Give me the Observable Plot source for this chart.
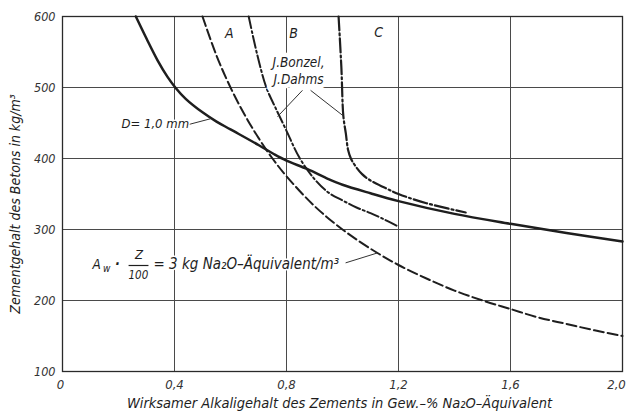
<!DOCTYPE html>
<html><head><meta charset="utf-8">
<script src="https://cdn.jsdelivr.net/npm/d3@7"></script>
<script src="https://cdn.jsdelivr.net/npm/@observablehq/plot@0.6"></script>
<style>body{margin:0;background:#fff}</style>
</head><body><div id="chart"></div>
<script>
// axis ticks
const xTicks = [0, 0.4, 0.8, 1.2, 1.6, 2.0];
const yTicks = [100, 200, 300, 400, 500, 600];
const gridXValues = [0.4, 0.8, 1.2, 1.6];
const gridYValues = [200, 300, 400, 500];

// Curve D = 1,0 mm (solid)
const dX = [0.262, 0.30, 0.34, 0.375, 0.405, 0.44, 0.50, 0.55, 0.60, 0.70, 0.756, 0.80, 0.875, 0.95, 1.00, 1.10, 1.20, 1.40, 1.60, 1.80, 2.00];
const dY = [600, 569, 538, 515, 499, 484, 465, 452, 441, 419, 406, 397, 385, 371, 363, 351, 340, 322, 308, 295, 283];

// Curve A: Aw*Z/100 = 3 kg Na2O-Aequivalent/m3 (dashed)
const aX = [0.50, 0.55, 0.60, 0.65, 0.70, 0.75, 0.80, 0.90, 1.00, 1.10, 1.20, 1.30, 1.40, 1.50, 1.60, 1.70, 1.80, 1.90, 2.00];
const aY = [600, 545, 500, 462, 429, 400, 375, 333, 300, 273, 250, 231, 214, 200, 188, 176, 167, 158, 150];

// Curve B (J. Bonzel, J. Dahms, dash-dot)
const bX = [0.665, 0.695, 0.728, 0.76, 0.80, 0.845, 0.90, 0.95, 1.00, 1.05, 1.10, 1.15, 1.20];
const bY = [600, 547, 500, 472, 439, 402, 371, 352, 341, 331, 323, 314, 304];

// Curve C (J. Bonzel, J. Dahms, dash-dot)
const cX = [0.986, 0.996, 1.003, 1.012, 1.020, 1.030, 1.045, 1.07, 1.10, 1.15, 1.20, 1.30, 1.44];
const cY = [600, 528, 460, 435, 412, 400, 390, 378, 369, 359, 350, 337, 324];

const rows = (xs, ys) => xs.map((x, i) => ({x, y: ys[i]}));

// annotation anchors (data coordinates)
const curveLetters = [
  {x: 0.596, y: 576, t: "A"},
  {x: 0.825, y: 576, t: "B"},
  {x: 1.129, y: 577, t: "C"}
];
const leaders = [
  {x1: 0.452, y1: 448, x2: 0.529, y2: 456},
  {x1: 0.857, y1: 496, x2: 0.768, y2: 459},
  {x1: 0.886, y1: 496, x2: 1.003, y2: 460},
  {x1: 1.011, y1: 253, x2: 1.125, y2: 267}
];

const FONT = '"Liberation Sans Narrow", "DejaVu Sans Condensed", "Liberation Sans", sans-serif';
const INK = "#1e1e1e";
const fmt = d => d === 0 ? "0" : d.toFixed(1).replace(".", ",");
const one = [0];

const chart = Plot.plot({
  width: 627,
  height: 412,
  marginLeft: 62,
  marginRight: 5,
  marginTop: 16,
  marginBottom: 41,
  style: {fontFamily: FONT, fontStyle: "italic", fontSize: "12px", color: INK, background: "#fff"},
  x: {domain: [0, 2], axis: null},
  y: {domain: [100, 600], axis: null},
  marks: [
    Plot.gridX(gridXValues, {stroke: "#4a4a4a", strokeOpacity: 1, strokeWidth: 1}),
    Plot.gridY(gridYValues, {stroke: "#4a4a4a", strokeOpacity: 1, strokeWidth: 1}),
    Plot.frame({stroke: "#2a2a2a", strokeWidth: 1.3}),
    Plot.axisX(xTicks.slice(1, -1), {tickSize: 0, tickPadding: 8, tickFormat: fmt, fontSize: 13, label: null, fill: "#333"}),
    Plot.axisX([0], {tickSize: 0, tickPadding: 8, tickFormat: fmt, fontSize: 13, label: null, dx: -2, fill: "#333"}),
    Plot.axisX([2.0], {tickSize: 0, tickPadding: 8, tickFormat: fmt, fontSize: 13, label: null, dx: -6, fill: "#333"}),
    Plot.axisY(yTicks, {tickSize: 0, tickPadding: 7, fontSize: 12.5, label: null, fill: "#333"}),
    // curves
    Plot.line(rows(aX, aY), {x: "x", y: "y", curve: "catmull-rom", stroke: INK, strokeWidth: 2, strokeDasharray: "10,4"}),
    Plot.line(rows(bX, bY), {x: "x", y: "y", curve: "catmull-rom", stroke: INK, strokeWidth: 2, strokeDasharray: "12,3,2,3"}),
    Plot.line(rows(cX, cY), {x: "x", y: "y", curve: "catmull-rom", stroke: INK, strokeWidth: 2.2, strokeDasharray: "14,3,2,3"}),
    Plot.line(rows(dX, dY), {x: "x", y: "y", curve: "catmull-rom", stroke: INK, strokeWidth: 2.5}),
    // leader lines
    Plot.link(leaders, {x1: "x1", y1: "y1", x2: "x2", y2: "y2", stroke: "#333", strokeWidth: 1}),
    // labels
    Plot.text(curveLetters, {x: "x", y: "y", text: "t", fontSize: 14, fill: INK}),
    Plot.text(one, {x: 0.452, y: 449, text: () => "D= 1,0 mm", textAnchor: "end", fontSize: 13, fill: INK, stroke: "white", strokeWidth: 3}),
    Plot.text(one, {x: 0.843, y: 524, text: () => "J.Bonzel,\nJ.Dahms", fontSize: 13.5, lineHeight: 1.25, fill: INK, stroke: "white", strokeWidth: 9}),
    // formula  A_w · Z/100 = 3 kg Na2O-Äquivalent/m³
    Plot.text(one, {x: 0.107, y: 250.7, text: () => "A", textAnchor: "start", fontSize: 13.5, fill: INK, stroke: "white", strokeWidth: 3}),
    Plot.text(one, {x: 0.145, y: 244.5, text: () => "w", textAnchor: "start", fontSize: 10, fill: INK}),
    Plot.text(one, {x: 0.196, y: 250.7, text: () => "·", fontSize: 14, fontWeight: "bold", fill: INK}),
    Plot.text(one, {x: 0.273, y: 264, text: () => "Z", fontSize: 13, fill: INK}),
    Plot.link(one, {x1: 0.236, x2: 0.307, y1: 249.3, y2: 249.3, stroke: INK, strokeWidth: 1.2}),
    Plot.text(one, {x: 0.271, y: 235, text: () => "100", fontSize: 11.5, fill: INK}),
    Plot.text(one, {x: 0.325, y: 250.7, text: () => "= 3 kg Na\u2082O\u2013Äquivalent/m\u00b3", textAnchor: "start", fontSize: 15, letterSpacing: 0.3, fill: INK, stroke: "white", strokeWidth: 3}),
    // axis titles
    Plot.text(one, {frameAnchor: "bottom", text: () => "Wirksamer Alkaligehalt des Zements in Gew.\u2013% Na\u2082O\u2013Äquivalent", lineAnchor: "middle", dy: 32, dx: -3, fontSize: 14.5, fill: INK}),
    Plot.text(one, {frameAnchor: "left", text: () => "Zementgehalt des Betons in kg/m\u00b3", textAnchor: "middle", lineAnchor: "middle", rotate: -90, dx: -47, dy: 10, fontSize: 14, fill: INK})
  ]
});
document.getElementById("chart").appendChild(chart);
</script>
</body></html>
